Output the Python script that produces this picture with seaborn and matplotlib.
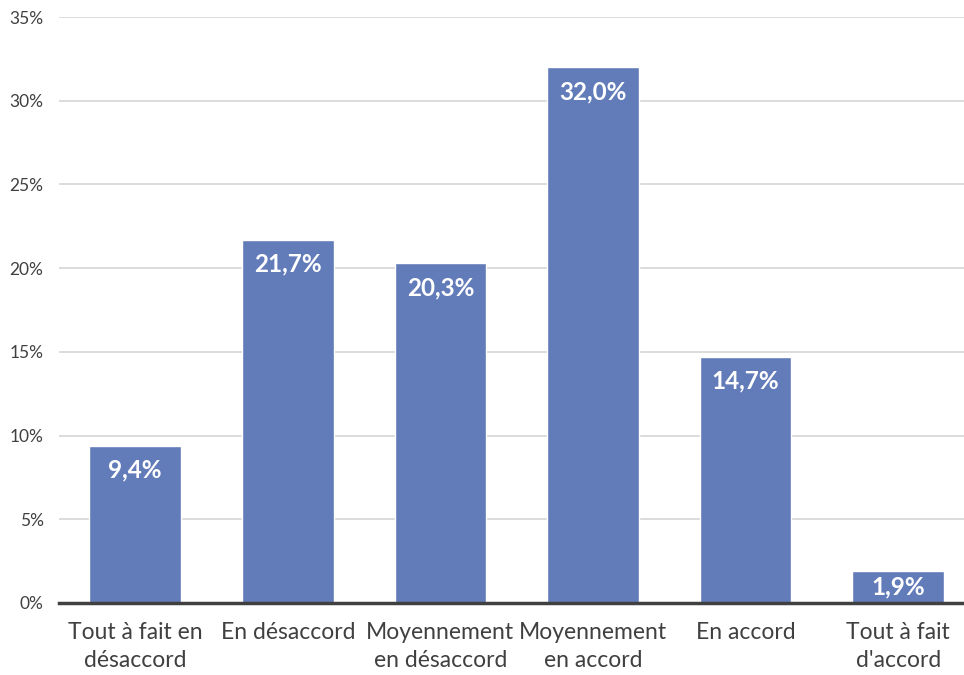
import matplotlib
matplotlib.use("Agg")
import matplotlib.pyplot as plt
import seaborn as sns
import pandas as pd
from matplotlib.ticker import FuncFormatter, MultipleLocator

categories = [
    "Tout à fait en\ndésaccord",
    "En désaccord",
    "Moyennement\nen désaccord",
    "Moyennement\nen accord",
    "En accord",
    "Tout à fait\nd'accord",
]
values = [9.4, 21.7, 20.3, 32.0, 14.7, 1.9]
value_labels = ["9,4%", "21,7%", "20,3%", "32,0%", "14,7%", "1,9%"]

sns.set_theme(style="white")
plt.rcParams["font.family"] = ["Lato", "DejaVu Sans"]

df = pd.DataFrame({"categorie": categories, "pourcentage": values})

fig = plt.figure(figsize=(9.64, 6.75), dpi=100)
ax = fig.add_axes([0.061, 0.1067, 0.95, 0.868])

sns.barplot(data=df, x="categorie", y="pourcentage", color="#627BB9",
            saturation=1, width=0.6, ax=ax, zorder=3)

ax.set_ylim(0, 35)
ax.set_xlim(-0.5, len(categories) - 0.5)
ax.yaxis.set_major_locator(MultipleLocator(5))
ax.yaxis.set_major_formatter(FuncFormatter(lambda v, _: f"{int(round(v))}%"))
ax.grid(axis="y", color="#d9d9d9", linewidth=1.3, zorder=0)
ax.set_axisbelow(True)
for side in ["top", "right", "left"]:
    ax.spines[side].set_visible(False)
ax.spines["bottom"].set_color("#404040")
ax.spines["bottom"].set_linewidth(2.5)
ax.spines["bottom"].set_zorder(4)

ax.set_xlabel("")
ax.set_ylabel("")
ax.tick_params(axis="y", labelsize=12.5, labelcolor="#404040", length=0, pad=11)
ax.tick_params(axis="x", labelsize=16.5, labelcolor="#404040", length=0, pad=14)
for t in ax.get_xticklabels():
    t.set_linespacing(1.4)

# value labels sit inside the top of each bar; short bars centre them
label_drop = 1.45
for i, (v, lab) in enumerate(zip(values, value_labels)):
    y = v - min(label_drop, v / 2)
    ax.text(i, y, lab, ha="center", va="center", color="white",
            fontsize=17.5, fontweight="bold", zorder=5)

fig.savefig("out.png", dpi=100)
